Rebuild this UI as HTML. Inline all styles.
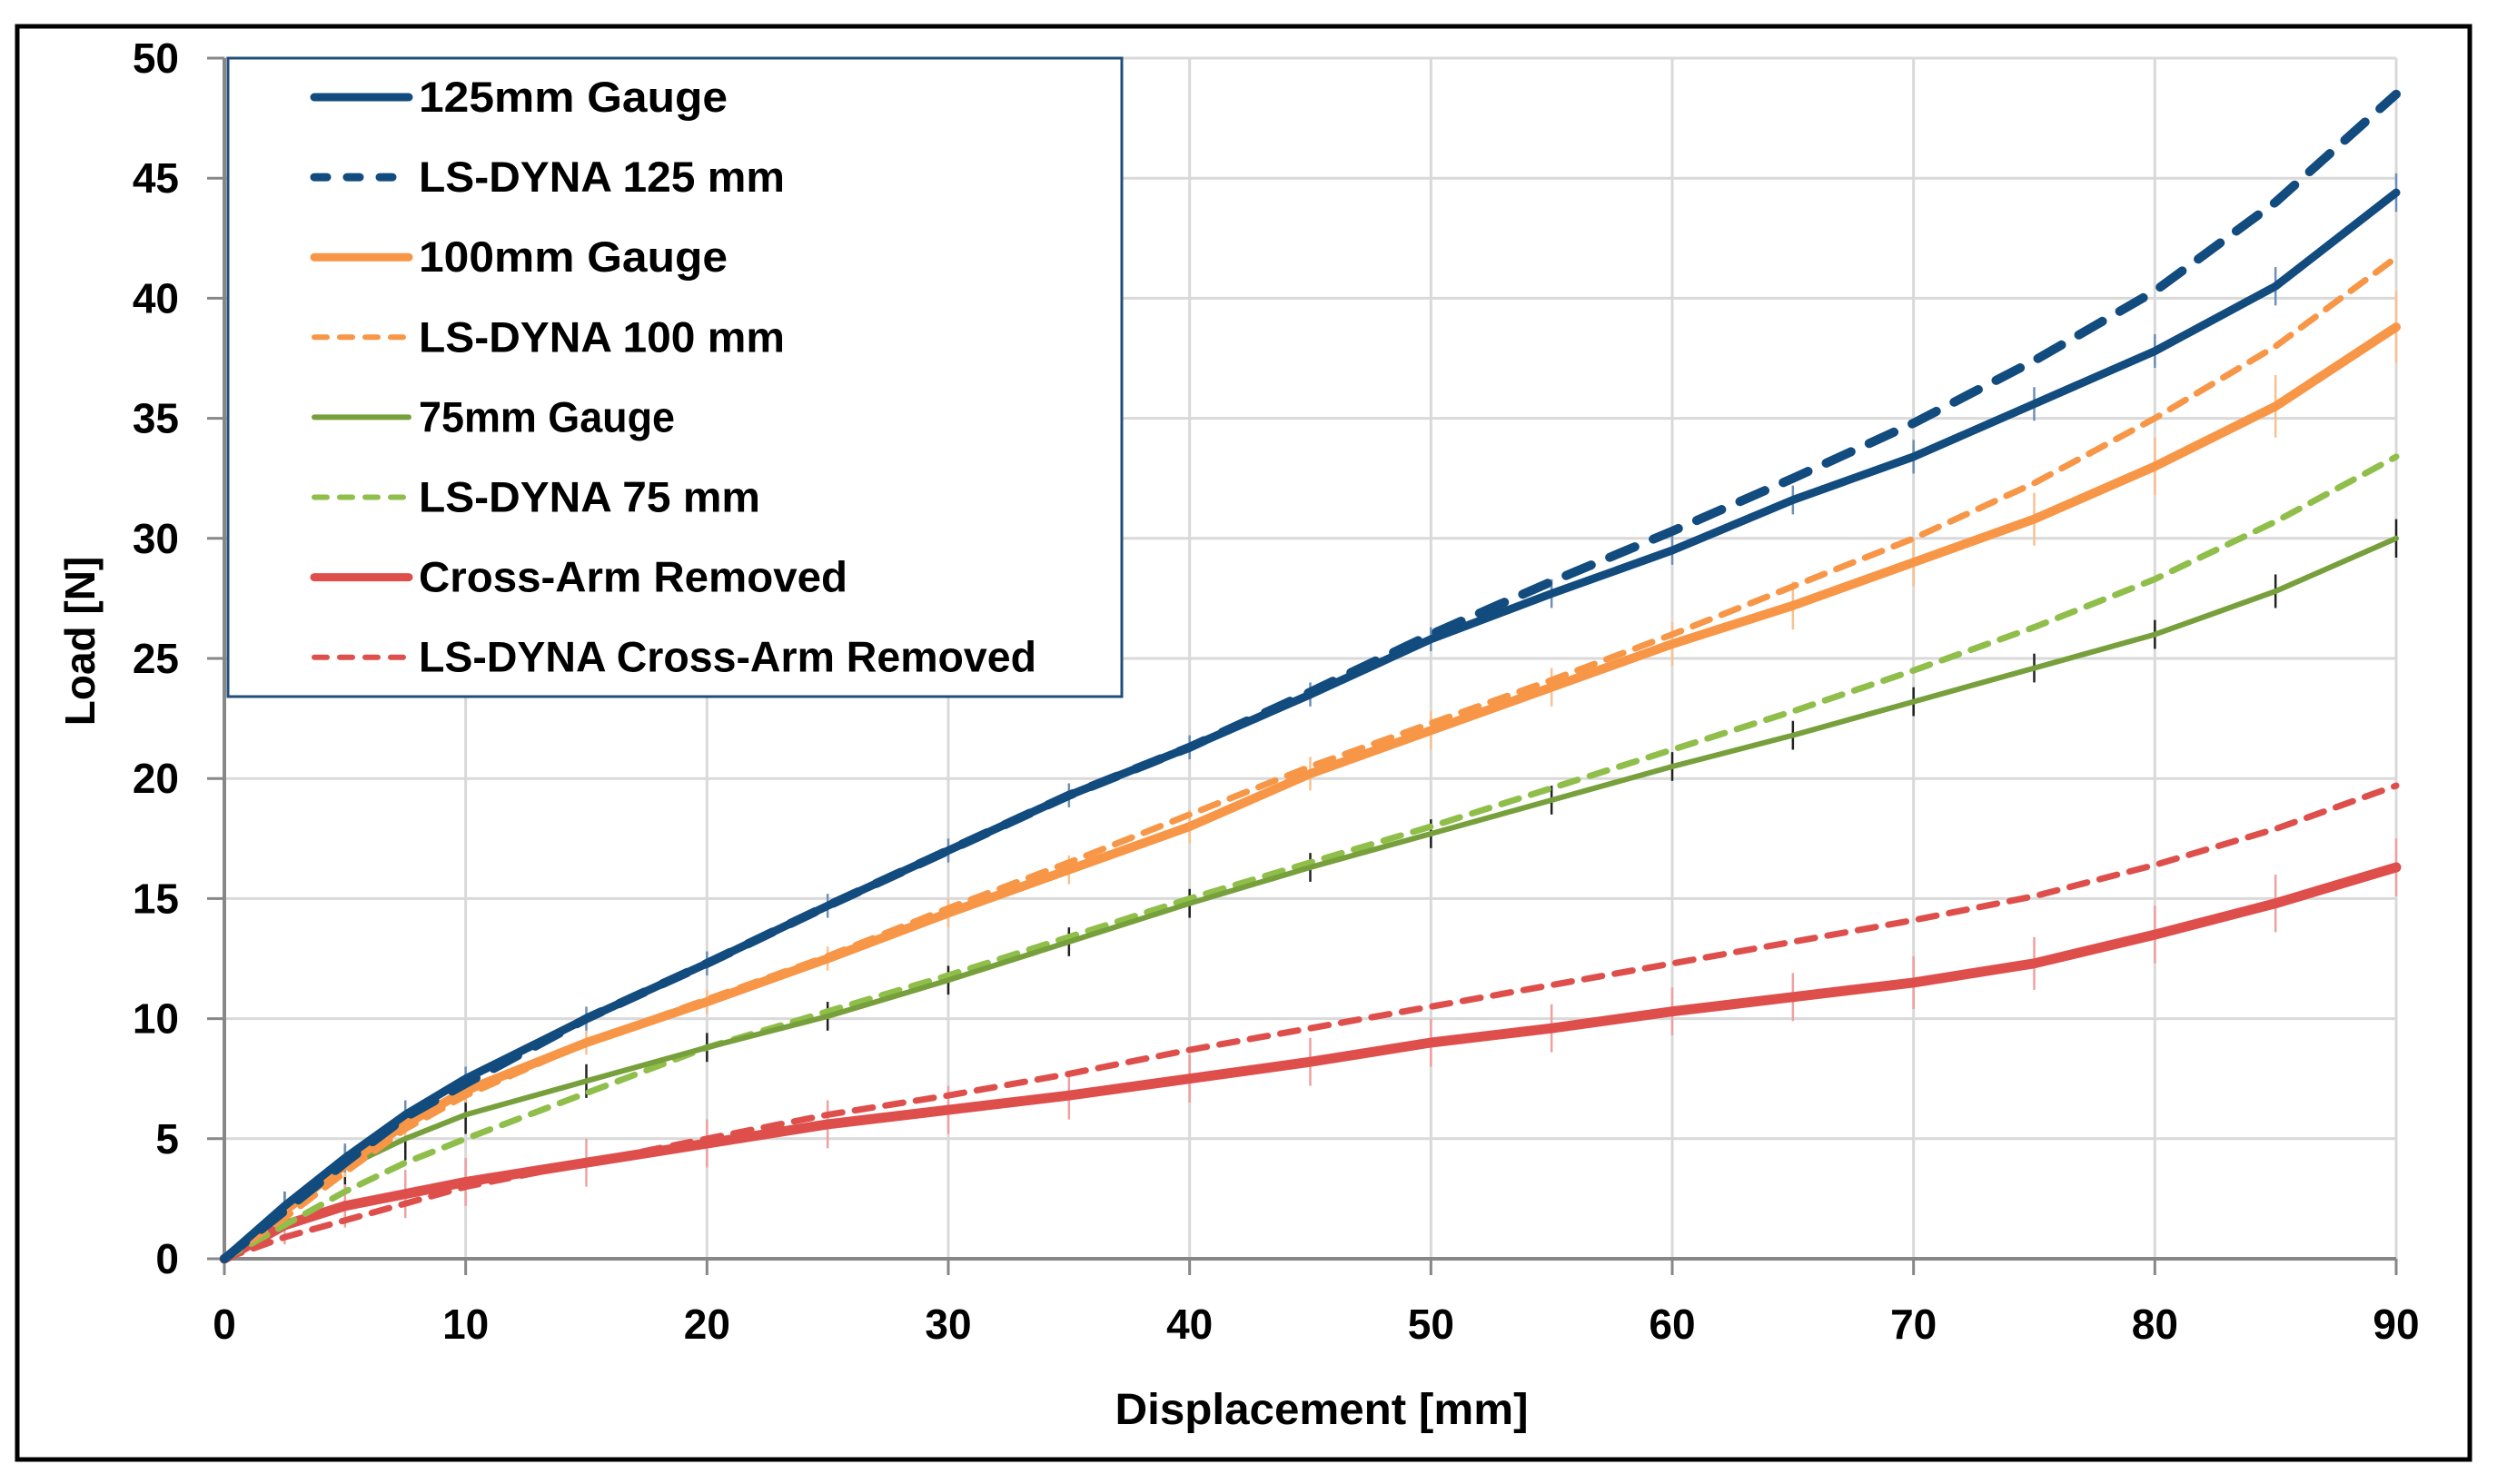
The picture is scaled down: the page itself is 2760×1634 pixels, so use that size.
<!DOCTYPE html>
<html><head><meta charset="utf-8"><style>
html,body{margin:0;padding:0;background:#fff}
svg{display:block}
text{font-family:"Liberation Sans",sans-serif;font-weight:bold;fill:#000}
</style></head><body>
<svg id="chart" width="2760" height="1634" viewBox="0 0 2760 1634" xmlns="http://www.w3.org/2000/svg">
<rect x="19" y="29" width="2700" height="1578" fill="#fff" stroke="#000" stroke-width="5"/>
<g id="grid"></g>
<g id="axes"></g>
<g id="series"></g>
<g id="legend"></g>
<text x="1455" y="1568" font-size="48" text-anchor="middle" textLength="455" lengthAdjust="spacingAndGlyphs">Displacement [mm]</text>
<text x="0" y="0" font-size="46" text-anchor="middle" transform="translate(104,706) rotate(-90)">Load [N]</text>
</svg>
<script>
const xTicks=[0,10,20,30,40,50,60,70,80,90];
const yTicks=[0,5,10,15,20,25,30,35,40,45,50];
const xs=[0,2.5,5,7.5,10,15,20,25,30,35,40,45,50,55,60,65,70,75,80,85,90];
const gauge125=[0,2.2,4.2,6,7.5,10,12.3,14.7,17,19.3,21.3,23.5,25.8,27.7,29.5,31.6,33.4,35.6,37.8,40.5,44.4];
const dyna125=[0,2,4,5.9,7.3,10,12.3,14.7,17,19.3,21.3,23.6,26,28.2,30.3,32.5,34.8,37.4,40.3,44,48.5];
const gauge100=[0,2,3.9,5.6,7,9,10.7,12.5,14.4,16.2,18,20.2,22,23.8,25.6,27.2,29,30.8,33,35.5,38.8];
const dyna100=[0,1.7,3.6,5.4,6.8,9,10.8,12.6,14.6,16.5,18.5,20.5,22.3,24.1,26,28,30,32.3,35,38,41.7];
const gauge75=[0,2,3.8,5,6,7.4,8.8,10.1,11.6,13.2,14.8,16.3,17.7,19.1,20.5,21.8,23.2,24.6,26,27.8,30];
const dyna75=[0,1.4,2.8,4,5,6.9,8.8,10.3,11.8,13.4,15,16.5,18,19.6,21.2,22.8,24.5,26.3,28.3,30.7,33.4];
const crossArm=[0,1.4,2.2,2.7,3.2,4,4.8,5.6,6.2,6.8,7.5,8.2,9,9.6,10.3,10.9,11.5,12.3,13.5,14.8,16.3];
const dynaCross=[0,0.9,1.6,2.3,3,4,5,6,6.8,7.7,8.7,9.6,10.5,11.4,12.3,13.2,14.1,15.1,16.4,17.9,19.7];
const err125=[0.3,0.6,0.6,0.6,0.5,0.5,0.5,0.5,0.5,0.5,0.5,0.5,0.5,0.6,0.6,0.6,0.7,0.7,0.7,0.8,0.8];
const err100=[0.2,0.4,0.5,0.5,0.5,0.5,0.5,0.5,0.6,0.6,0.7,0.7,0.8,0.8,0.9,1,1,1.1,1.2,1.3,1.5];
const err75=[0.3,0.8,0.9,0.9,0.8,0.7,0.6,0.6,0.6,0.6,0.6,0.6,0.6,0.6,0.6,0.6,0.6,0.6,0.6,0.7,0.8];
const errCross=[0.3,0.8,0.9,1,1,1,1,1,1,1,1,1,1,1,1,1,1.1,1.1,1.2,1.2,1.2];
const legendLabels=["125mm Gauge","LS-DYNA 125 mm","100mm Gauge","LS-DYNA 100 mm","75mm Gauge","LS-DYNA 75 mm","Cross-Arm Removed","LS-DYNA Cross-Arm Removed"];

const NS="http://www.w3.org/2000/svg";
const X0=247,X1=2638,Y0=1386,Y1=64;
const sx=v=>X0+(v-0)/90*(X1-X0);
const sy=v=>Y0-(v-0)/50*(Y0-Y1);
function mk(tag,attrs,parent){const e=document.createElementNS(NS,tag);for(const k in attrs)e.setAttribute(k,attrs[k]);parent.appendChild(e);return e;}
const grid=document.getElementById('grid'),axes=document.getElementById('axes'),ser=document.getElementById('series'),leg=document.getElementById('legend');

yTicks.forEach(t=>{
  if(t>0){const g=mk('line',{x1:X0,x2:X1,y1:sy(t),y2:sy(t),stroke:'#d9d9d9','stroke-width':3},grid);
  
  }
  const tk=mk('line',{x1:X0-19,x2:X0,y1:sy(t),y2:sy(t),stroke:'#878787','stroke-width':3},axes);
  
  
  const lb=mk('text',{x:X0-50,y:sy(t)+16,'font-size':46,'text-anchor':'end'},axes);
  lb.textContent=t;
  
  
});
xTicks.forEach(t=>{
  if(t>0){const g=mk('line',{x1:sx(t),x2:sx(t),y1:Y1,y2:Y0,stroke:'#d9d9d9','stroke-width':3},grid);
  
  }
  const tk=mk('line',{x1:sx(t),x2:sx(t),y1:Y0,y2:Y0+18,stroke:'#878787','stroke-width':3},axes);
  
  
  const lb=mk('text',{x:sx(t),y:Y0+88,'font-size':46,'text-anchor':'middle'},axes);
  lb.textContent=t;
  
  
});
const ya=mk('line',{x1:X0,x2:X0,y1:Y1,y2:Y0,stroke:'#878787','stroke-width':4},axes);


const xa=mk('line',{x1:X0,x2:X1,y1:Y0,y2:Y0,stroke:'#878787','stroke-width':4},axes);



function errbars(vals,errs,color,name){
  const g=mk('g',{},ser);
  
  
  xs.forEach((x,i)=>{
    const l=mk('line',{x1:sx(x),x2:sx(x),y1:sy(vals[i]-errs[i]),y2:sy(vals[i]+errs[i]),stroke:color,'stroke-width':2.5},g);
    
    
  });
}
function line(vals,color,w,dash,name){
  const d=xs.map((x,i)=>(i?'L':'M')+sx(x).toFixed(1)+','+sy(vals[i]).toFixed(1)).join(' ');
  const p=mk('path',{d:d,fill:'none',stroke:color,'stroke-width':w,'stroke-linejoin':'round','stroke-linecap':'round'},ser);
  if(dash)p.setAttribute('stroke-dasharray',dash);
  
  
}
const C={blue:'#124b7e',orange:'#f79646',green:'#77a03c',lgreen:'#8fbf4a',red:'#de4f4c'};
errbars(gauge75,err75,'#222','error-bars-75mm');
errbars(crossArm,errCross,'#f0a0a0','error-bars-cross-arm');
errbars(gauge100,err100,'#f9c090','error-bars-100mm');
errbars(gauge125,err125,'#6f8fb8','error-bars-125mm');
line(dynaCross,C.red,7,'20 14','line-lsdyna-cross-arm');
line(crossArm,C.red,11,null,'line-cross-arm-removed');
line(dyna75,C.lgreen,7,'20 14','line-lsdyna-75mm');
line(gauge75,C.green,6,null,'line-75mm-gauge');
line(dyna100,C.orange,7,'20 14','line-lsdyna-100mm');
line(gauge100,C.orange,10,null,'line-100mm-gauge');
line(dyna125,C.blue,10,'30 22','line-lsdyna-125mm');
line(gauge125,C.blue,9,null,'line-125mm-gauge');

const lb=mk('rect',{x:251,y:64,width:984,height:703,fill:'#fff',stroke:'#1f4e79','stroke-width':3},leg);


const styles=[[C.blue,9,null],[C.blue,9,'14 22'],[C.orange,9,null],[C.orange,6,'14 14'],[C.green,6,null],[C.lgreen,6,'14 14'],[C.red,9,null],[C.red,6,'14 14']];
const legendWidths=[340,403,340,403,282,376,472,680];
legendLabels.forEach((t,i)=>{
  const y=107+i*88.1;
  const g=mk('g',{},leg);
  
  
  const s=styles[i];
  const l=mk('line',{x1:346,x2:450,y1:y,y2:y,stroke:s[0],'stroke-width':s[1],'stroke-linecap':'round'},g);
  if(s[2])l.setAttribute('stroke-dasharray',s[2]);
  
  
  const tx=mk('text',{x:461,y:y+16,'font-size':47,textLength:legendWidths[i],lengthAdjust:'spacingAndGlyphs'},g);
  tx.textContent=t;
  
  
});
</script>
</body></html>
